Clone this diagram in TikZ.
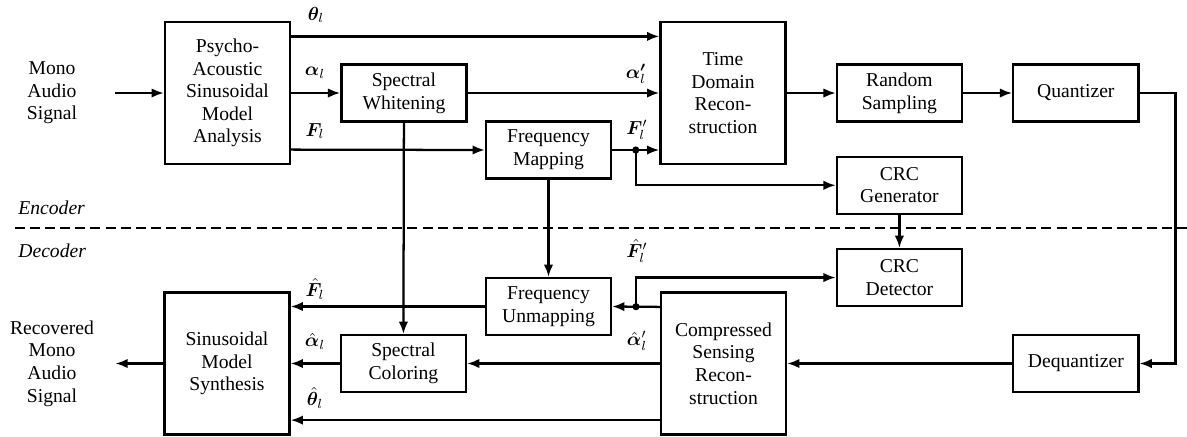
\documentclass[tikz,border=0pt]{standalone}
\usepackage{amsmath,amssymb}
\usepackage{bm}
\usepackage{fontspec}
\setmainfont{Liberation Serif}
\usepackage{tikz}
\usetikzlibrary{arrows.meta,positioning}

\begin{document}
\begin{tikzpicture}[
      x=0.53pt, y=-0.53pt,
      font=\fontsize{10.4}{12}\selectfont,
      node distance=17.5pt and 26pt,
      block/.style={rectangle, draw=black, line width=1.2pt, minimum width=66.3pt, minimum height=30.2pt, align=center, inner sep=1pt},
      bigblock/.style={block, minimum height=75.3pt},
      arrow/.style={-{Latex[length=6.5pt,width=5pt]}, line width=1.2pt},
      line/.style={line width=1.1pt},
      lbl/.style={inner sep=0pt},
      side/.style={align=center, minimum width=66.8pt, inner sep=0pt}
  ]
  \useasboundingbox (0,0) rectangle (1187,436);

  % Encoder nodes
  \node (psy) [bigblock] at (227.5,93) {Psycho-\\Acoustic\\Sinusoidal\\Model\\Analysis};
  \node (whit) [block, right=of psy] {Spectral\\Whitening};
  \node (fmap) [block] at (548.5,150) {Frequency\\Mapping};
  \node (tdr) [bigblock] at (723,93) {Time\\Domain\\Recon-\\struction};
  \node (rsamp) [block, right=of tdr] {Random\\Sampling};
  \node (quant) [block, right=of rsamp] {Quantizer};
  \node (crcgen) [block, below=of rsamp] {CRC\\Generator};

  % Decoder nodes
  \node (synth) [bigblock] at (227,363.5) {Sinusoidal\\Model\\Synthesis};
  \node (scol) [block, right=of synth] {Spectral\\Coloring};
  \node (funmap) [block] at (548.5,306.5) {Frequency\\Unmapping};
  \node (csr) [bigblock] at (723.5,363.5) {Compressed\\Sensing\\Recon-\\struction};
  \node (deq) [block] at (quant |- csr) {Dequantizer};
  \node (crcdet) [block, below=of crcgen] {CRC\\Detector};

  % Side text
  \node (inp) [side] at (52,93) {Mono\\Audio\\Signal};
  \node (outp) [side] at (52,363.5) {Recovered\\Mono\\Audio\\Signal};
  \node (enc) [lbl, anchor=west] at (18,208) {\itshape Encoder};
  \node (dec) [lbl, anchor=west] at (18,251) {\itshape Decoder};

  % Divider
  \draw [line, dash pattern=on 5.3pt off 2.7pt] (15,228) -- (1187,228);

  % Encoder arrows
  \draw [arrow] (inp.east) -- (psy.west);
  \draw [arrow] ([yshift=30pt]psy.east) -- ([yshift=30pt]tdr.west);
  \draw [arrow] (psy.east) -- (whit.west);
  \draw [arrow] (whit.east) -- (tdr.west);
  \draw [arrow] ([yshift=-30pt]psy.east) -- (fmap.west);
  \path (fmap.east) -- coordinate[pos=0.5] (fdot) (fmap.east -| tdr.west);
  \draw [arrow] (fmap.east) -- (fmap.east -| tdr.west);
  \fill (fdot) circle (1.9pt);
  \draw [arrow] (fdot) |- (crcgen.west);
  \draw [arrow] (tdr.east |- rsamp.west) -- (rsamp.west);
  \draw [arrow] (rsamp.east) -- (quant.west);
  \draw [arrow] (quant.east) -- ++(36,0) |- (deq.east);

  % Crossing arrows
  \draw [arrow] (whit.south) -- (scol.north);
  \draw [arrow] (fmap.south) -- (funmap.north);
  \draw [arrow] (crcgen.south) -- (crcdet.north);

  % Decoder arrows
  \draw [arrow] (deq.west) -- (csr.east);
  \draw [arrow] ([yshift=30pt]csr.west) -- (funmap.east);
  \path ([yshift=30pt]csr.west) -- coordinate[pos=0.5] (hdot) (funmap.east);
  \fill (hdot) circle (1.9pt);
  \draw [arrow] (hdot) |- (crcdet.west);
  \draw [arrow] (csr.west) -- (scol.east);
  \draw [arrow] ([yshift=-30pt]csr.west) -- ([yshift=-30pt]synth.east);
  \draw [arrow] (funmap.west) -- (funmap.west -| synth.east);
  \draw [arrow] (scol.west) -- (synth.east);
  \draw [arrow] (synth.west) -- (outp.east);

  % Labels
  \node (lth) [lbl] at (316,15) {$\boldsymbol{\theta}_l$};
  \node (lal) [lbl] at (315,73) {$\boldsymbol{\alpha}_l$};
  \node (lf) [lbl] at (315,131) {$\boldsymbol{F}_l$};
  \node (lalp) [lbl] at (636,74) {$\boldsymbol{\alpha'}_l$};
  \node (lfp) [lbl] at (637,130) {$\boldsymbol{F}'_l$};
  \node (lfhp) [lbl] at (637,251) {$\hat{\boldsymbol{F}}'_l$};
  \node (lahp) [lbl] at (637,341) {$\hat{\boldsymbol{\alpha}}'_l$};
  \node (lfh) [lbl] at (315,289) {$\hat{\boldsymbol{F}}_l$};
  \node (lah) [lbl] at (315,341) {$\hat{\boldsymbol{\alpha}}_l$};
  \node (lthh) [lbl] at (315,398) {$\hat{\boldsymbol{\theta}}_l$};

\end{tikzpicture}
\end{document}
